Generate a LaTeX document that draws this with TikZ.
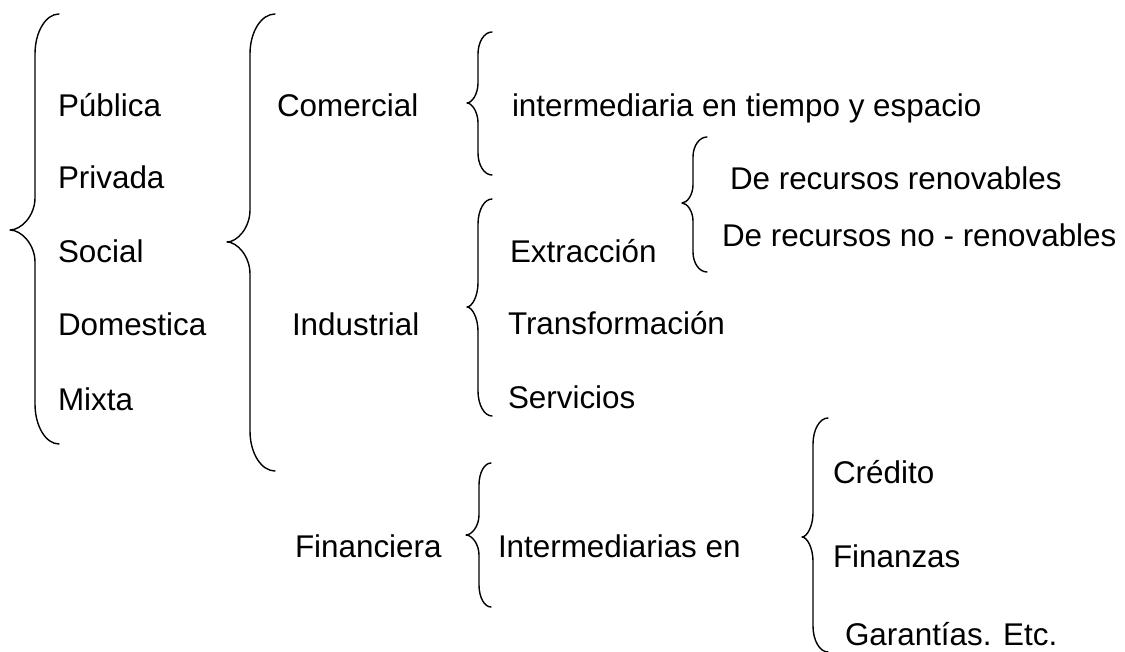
\documentclass[tikz,border=0pt]{standalone}
\usepackage{fontspec}
\setmainfont{Liberation Sans}
\tikzset{
  bracestyle/.style={draw=black, line width=1.4pt, line join=round, line cap=round},
  lbl/.style={anchor=base west, inner sep=0pt, outer sep=0pt, font=\fontsize{31.4}{36}\selectfont, text=black}
}
% #1 xtip, #2 xvert, #3 xend, #4 ytop, #5 ytip, #6 ybot, #7 corner r, #8 tip r
\newcommand{\mybrace}[8]{%
  \draw[bracestyle] (#3,#4) .. controls ({#3-0.552*(#3-#2)},#4) and (#2,{#4+0.448*#7}) .. (#2,#4+#7)
    -- (#2,#5-#8)
    .. controls (#2,{#5-0.45*#8}) and ({#1+0.45*(#2-#1)},#5) .. (#1,#5)
    .. controls ({#1+0.45*(#2-#1)},#5) and (#2,{#5+0.45*#8}) .. (#2,#5+#8)
    -- (#2,#6-#7)
    .. controls (#2,{#6-0.448*#7}) and ({#3-0.552*(#3-#2)},#6) .. (#3,#6);}
\begin{document}
\begin{tikzpicture}[x=1pt,y=-1pt]
\useasboundingbox[fill=white] (0,0) rectangle (1125,652);
% braces
\mybrace{10}{35}{59}{14}{230}{444}{40}{32}
\mybrace{227}{250}{275}{14}{242}{471}{40}{32}
\mybrace{467}{478}{492}{32}{103}{175}{22}{20}
\mybrace{467}{478}{492}{199}{307}{416}{25}{24}
\mybrace{682}{693}{707}{137}{203}{272}{20}{18}
\mybrace{466}{479}{491}{463}{535}{607}{22}{20}
\mybrace{802}{813}{828}{418}{537}{652}{26}{24}
% column 1
\node[lbl] (pub) at (58,117) {Pública};
\node[lbl] (pri) at (58,189) {Privada};
\node[lbl] (soc) at (58,263) {Social};
\node[lbl] (dom) at (58,336) {Domestica};
\node[lbl] (mix) at (58,410) {Mixta};
% column 2
\node[lbl] (com) at (277,117) {Comercial};
\node[lbl] (ind) at (292,336) {Industrial};
\node[lbl] (fin) at (295,557) {Financiera};
% column 3
\node[lbl] (itm) at (512,117) {intermediaria en tiempo y espacio};
\node[lbl] (ext) at (510,263) {Extracción};
\node[lbl] (tra) at (508,335) {Transformación};
\node[lbl] (ser) at (508,409) {Servicios};
\node[lbl] (ine) at (498,557) {Intermediarias en};
% column 4
\node[lbl] (ren) at (730,190) {De recursos renovables};
\node[lbl] (nre) at (722,247) {De recursos no - renovables};
\node[lbl] (cre) at (833,483) {Crédito};
\node[lbl] (fiz) at (833,567) {Finanzas};
\node[lbl] (gar) at (845,645) {Garantías. Etc.};
\end{tikzpicture}
\end{document}
